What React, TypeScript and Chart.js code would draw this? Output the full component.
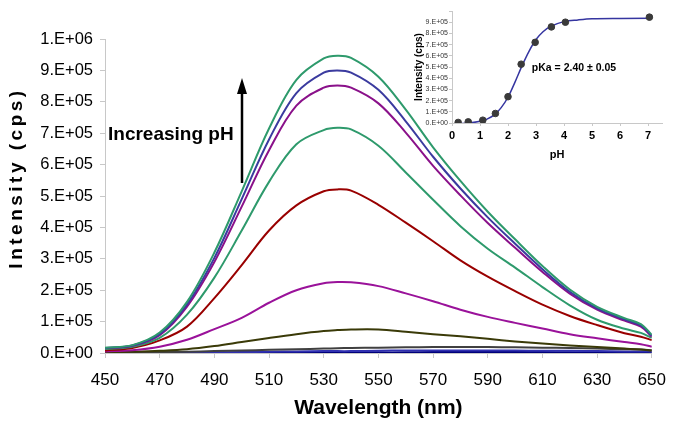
import React, { useEffect, useRef } from 'react';
import { Chart, registerables } from 'chart.js';
Chart.register(...registerables);

const FONT = '"Liberation Sans", Arial, sans-serif';

// ---- main spectra (intensity in thousands of cps) ----
const wavelengths = [450, 460, 470, 480, 490, 500, 510, 520, 530, 535, 540, 550, 560, 570, 580, 590, 600, 610, 620, 630, 640, 646, 650];
const spec1 = [17, 25, 65, 163, 320, 515, 715, 870, 938, 947, 940, 880, 775, 655, 548, 450, 362, 277, 202, 147, 111, 92, 58];
const spec2 = [16, 24, 60, 155, 303, 490, 680, 828, 893, 900, 893, 838, 738, 625, 524, 432, 348, 267, 195, 142, 107, 88, 55];
const spec3 = [15, 23, 57, 148, 290, 466, 646, 788, 845, 852, 845, 795, 702, 596, 502, 414, 335, 258, 189, 138, 103, 84, 52];
const spec4 = [13, 20, 48, 122, 240, 390, 545, 665, 710, 717, 712, 660, 575, 488, 404, 332, 272, 210, 152, 106, 77, 64, 48];
const spec5 = [8, 16, 40, 84, 175, 280, 390, 470, 515, 521, 517, 472, 415, 356, 295, 243, 197, 154, 118, 89, 63, 52, 41];
const spec6 = [5, 9, 20, 42, 76, 112, 160, 200, 222, 226, 225, 213, 190, 165, 138, 115, 96, 78, 60, 47, 35, 28, 20];
const spec7 = [2, 4, 7, 12, 22, 35, 48, 60, 70, 73, 75, 75, 68, 60, 53, 45, 37, 30, 24, 19, 14, 11, 8];
const spec8 = [1, 2, 3, 4, 6, 8, 10, 12, 14, 15, 16, 17, 18, 19, 19, 19, 18, 17, 16, 14, 12, 11, 9];
const spec9 = [0, 1, 1, 2, 2, 3, 4, 5, 6, 6, 6, 7, 8, 8, 8, 8, 8, 7, 7, 6, 5, 5, 4];
const spec10 = [0, 0, 0, 1, 1, 1, 1, 2, 2, 2, 2, 2, 2, 3, 3, 3, 3, 3, 2, 2, 2, 2, 1];
const spectra = [spec1, spec2, spec3, spec4, spec5, spec6, spec7, spec8, spec9, spec10];
const spectraColors = ['#2e9a6c', '#3b3b9f', '#8a118a', '#2e9a6c', '#990000', '#9a129a', '#3a3a08', '#404040', '#3030b0', '#00007a'];
const yTickLabels = ['0.E+00', '1.E+05', '2.E+05', '3.E+05', '4.E+05', '5.E+05', '6.E+05', '7.E+05', '8.E+05', '9.E+05', '1.E+06'];

// ---- inset titration ----
const pHPoints = [0.22, 0.58, 1.1, 1.55, 2.0, 2.47, 2.97, 3.55, 4.05, 7.05];
const intensityPoints = [5000, 10000, 25000, 85000, 235000, 525000, 720000, 858000, 900000, 945000];
const fitPH = [0, 0.5, 1.0, 1.25, 1.5, 1.75, 2.0, 2.25, 2.5, 2.75, 3.0, 3.25, 3.5, 4.0, 4.5, 5.0, 6.0, 7.1];
const fitIntensity = [-8000, -3000, 15000, 35000, 70000, 135000, 230000, 365000, 510000, 640000, 745000, 815000, 860000, 905000, 920000, 930000, 933000, 935000];
const insetXTicks = [0, 1, 2, 3, 4, 5, 6, 7];
const insetYTickLabels = ['0.E+00', '1.E+05', '2.E+05', '3.E+05', '4.E+05', '5.E+05', '6.E+05', '7.E+05', '8.E+05', '9.E+05', ''];

const AXIS = '#c8c8c8';

const mainDecor = {
  id: 'mainDecor',
  afterDraw(chart: any) {
    const ctx = chart.ctx as CanvasRenderingContext2D;
    ctx.save();
    ctx.translate(17, 178);
    ctx.rotate(-Math.PI / 2);
    ctx.font = `bold 19px ${FONT}`;
    (ctx as any).letterSpacing = '3.5px';
    ctx.fillStyle = '#000';
    ctx.textAlign = 'center';
    ctx.textBaseline = 'middle';
    ctx.fillText('Intensity (cps)', 0, 0);
    ctx.restore();

    ctx.save();
    ctx.font = `bold 19px ${FONT}`;
    ctx.fillStyle = '#000';
    ctx.textAlign = 'left';
    ctx.textBaseline = 'alphabetic';
    ctx.fillText('Increasing pH', 108, 140);
    ctx.strokeStyle = '#000';
    ctx.lineWidth = 2.5;
    ctx.beginPath();
    ctx.moveTo(242, 183);
    ctx.lineTo(242, 92);
    ctx.stroke();
    ctx.beginPath();
    ctx.moveTo(242, 78);
    ctx.lineTo(247, 94);
    ctx.lineTo(237, 94);
    ctx.closePath();
    ctx.fill();
    ctx.restore();
  },
};

const insetDecor = {
  id: 'insetDecor',
  afterDraw(chart: any) {
    const ctx = chart.ctx as CanvasRenderingContext2D;
    ctx.save();
    ctx.font = `bold 10.5px ${FONT}`;
    ctx.fillStyle = '#000';
    ctx.textAlign = 'center';
    ctx.textBaseline = 'middle';
    ctx.fillText('pKa = 2.40 \u00b1 0.05', 174, 68);
    ctx.restore();
  },
};

export default function App() {
  const mainRef = useRef<HTMLCanvasElement>(null);
  const insetRef = useRef<HTMLCanvasElement>(null);

  useEffect(() => {
    const main = new Chart(mainRef.current!, {
      type: 'line',
      data: {
        datasets: spectra.map((s, i) => ({
          data: s.map((v, j) => ({ x: wavelengths[j], y: v * 1000 })),
          borderColor: spectraColors[i],
          backgroundColor: spectraColors[i],
          borderWidth: 2,
          pointRadius: 0,
          tension: 0.35,
          fill: false,
        })),
      },
      options: {
        animation: false,
        responsive: false,
        events: [],
        layout: { padding: { top: 39, right: 15, left: 0, bottom: 0 } },
        plugins: { legend: { display: false }, tooltip: { enabled: false } },
        scales: {
          x: {
            type: 'linear',
            min: 450,
            max: 650,
            afterFit: (s: any) => { s.height = 75; },
            ticks: { stepSize: 20, autoSkip: false, color: '#000', font: { family: FONT, size: 17 }, padding: 12, maxRotation: 0 },
            grid: { drawOnChartArea: false, color: AXIS, tickLength: 5 },
            border: { color: AXIS },
            title: { display: true, text: 'Wavelength (nm)', color: '#000', font: { family: FONT, size: 21, weight: 'bold' }, padding: { top: 0, bottom: 7 } },
          },
          y: {
            type: 'linear',
            min: 0,
            max: 1000000,
            afterFit: (s: any) => { s.width = 105; },
            ticks: {
              stepSize: 100000,
              autoSkip: false,
              color: '#000',
              font: { family: FONT, size: 16.5 },
              padding: 7,
              callback: (_v: any, i: number) => yTickLabels[i],
            },
            grid: { drawOnChartArea: false, color: AXIS, tickLength: 5 },
            border: { color: AXIS },
          },
        },
      },
      plugins: [mainDecor],
    } as any);

    const inset = new Chart(insetRef.current!, {
      type: 'scatter',
      data: {
        datasets: [
          {
            data: pHPoints.map((p, i) => ({ x: p, y: intensityPoints[i] })),
            backgroundColor: '#3a3a3a',
            borderColor: '#3a3a3a',
            pointRadius: 3.3,
            showLine: false,
          },
          {
            data: fitPH.map((p, i) => ({ x: p, y: fitIntensity[i] })),
            borderColor: '#3535a0',
            borderWidth: 1.5,
            pointRadius: 0,
            showLine: true,
            cubicInterpolationMode: 'monotone' as const,
          },
        ],
      },
      options: {
        animation: false,
        responsive: false,
        events: [],
        layout: { padding: { top: 11, right: 16, left: 0, bottom: 0 } },
        plugins: { legend: { display: false }, tooltip: { enabled: false } },
        scales: {
          x: {
            type: 'linear',
            min: 0,
            max: 7.5,
            afterFit: (s: any) => { s.height = 47; },
            afterBuildTicks: (s: any) => { s.ticks = insetXTicks.map((v) => ({ value: v })); },
            ticks: { autoSkip: false, color: '#000', font: { family: FONT, size: 11, weight: 'bold' }, padding: 3, maxRotation: 0, callback: (v: any) => String(v) },
            grid: { drawOnChartArea: false, color: AXIS, tickLength: 3 },
            border: { color: AXIS },
            title: { display: true, text: 'pH', color: '#000', font: { family: FONT, size: 11, weight: 'bold' }, padding: { top: 0, bottom: 8 } },
          },
          y: {
            type: 'linear',
            min: 0,
            max: 1000000,
            afterFit: (s: any) => { s.width = 52; },
            ticks: {
              stepSize: 100000,
              autoSkip: false,
              color: '#333',
              font: { family: FONT, size: 7 },
              padding: 1,
              callback: (_v: any, i: number) => insetYTickLabels[i],
            },
            grid: { drawOnChartArea: false, color: AXIS, tickLength: 3 },
            border: { color: AXIS },
            title: { display: true, text: 'Intensity (cps)', color: '#000', font: { family: FONT, size: 10, weight: 'bold' }, padding: { top: 13, bottom: 0 } },
          },
        },
      },
      plugins: [insetDecor],
    } as any);

    return () => {
      main.destroy();
      inset.destroy();
    };
  }, []);

  return (
    <div style={{ position: 'fixed', left: 0, top: 0, width: 678, height: 428, background: '#fff' }}>
      <canvas ref={mainRef} width={678} height={428} style={{ position: 'absolute', left: 0, top: 0, width: 678, height: 428 }} />
      <canvas ref={insetRef} width={278} height={170} style={{ position: 'absolute', left: 400, top: 0, width: 278, height: 170 }} />
    </div>
  );
}
